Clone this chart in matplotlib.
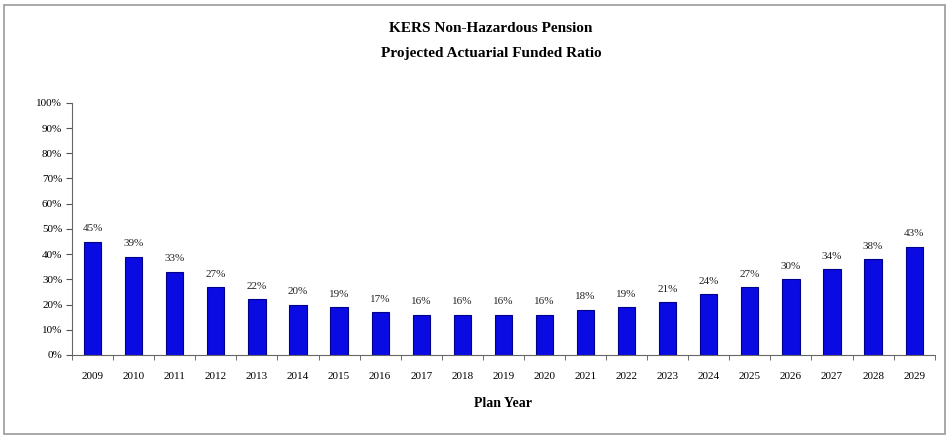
import numpy as np
import matplotlib.pyplot as plt
from matplotlib.patches import Rectangle
from matplotlib.ticker import PercentFormatter

years = [str(y) for y in range(2009, 2030)]
funded = [45, 39, 33, 27, 22, 20, 19, 17, 16, 16, 16, 16, 18, 19, 21, 24, 27, 30, 34, 38, 43]

plt.rcParams['font.family'] = ['Liberation Serif', 'DejaVu Serif']

fig = plt.figure(figsize=(9.48, 4.36), dpi=100)
ax = fig.add_axes([0.076, 0.186, 0.91, 0.578])

# grey frame round the whole chart
fig.patches.append(Rectangle((4 / 948, 2 / 436), 941 / 948, 429 / 436,
                             transform=fig.transFigure, fill=False,
                             edgecolor='#9a9a9a', linewidth=1.2))

x = np.arange(len(years))
ax.bar(x, funded, width=0.42, color='#0a0ae2', edgecolor='#00008a', linewidth=0.8)

for xi, v in zip(x, funded):
    ax.annotate(f"{v}%", (xi, v), xytext=(0, 6), textcoords='offset points',
                ha='center', va='bottom', fontsize=8, color='#222222')

ax.set_xlim(-0.5, len(years) - 0.5)
ax.set_ylim(0, 100)
ax.set_yticks(np.arange(0, 101, 10))
ax.yaxis.set_major_formatter(PercentFormatter(decimals=0))
ax.set_xticks(x)
ax.set_xticklabels(years)
ax.set_xticks(np.arange(-0.5, len(years), 1), minor=True)
ax.tick_params(axis='x', which='major', length=0, pad=12, labelsize=8)
ax.tick_params(axis='x', which='minor', length=3.5, color='#555555')
ax.tick_params(axis='y', length=4, color='#555555', labelsize=8, pad=3)

for s in ['top', 'right']:
    ax.spines[s].set_visible(False)
for s in ['left', 'bottom']:
    ax.spines[s].set_color('#666666')

ax.set_xlabel('Plan Year', fontsize=10, fontweight='bold', labelpad=12)
fig.text(0.518, 0.935, 'KERS Non-Hazardous Pension', ha='center', va='center',
         fontsize=11, fontweight='bold')
fig.text(0.518, 0.877, 'Projected Actuarial Funded Ratio', ha='center', va='center',
         fontsize=11, fontweight='bold')

fig.savefig('out.png', dpi=100)
